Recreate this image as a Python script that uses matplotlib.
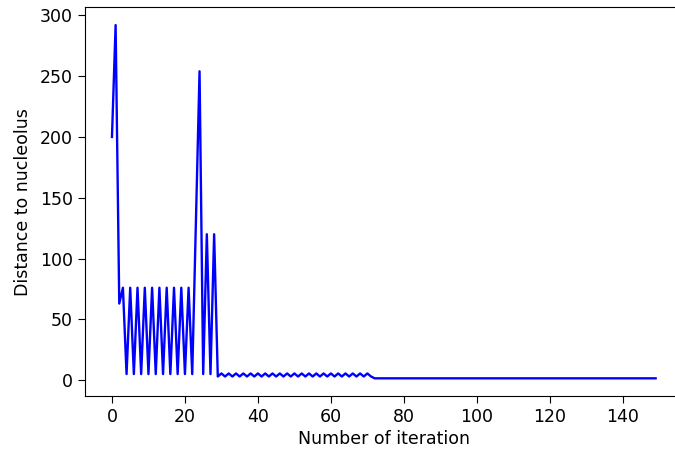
import numpy as np
import matplotlib
matplotlib.use('Agg')
import matplotlib.pyplot as plt

# distance values, one per iteration
inicio = [200, 292, 63]
oscilacion_1 = [76, 5] * 10            # iteraciones 3..22
saltos = [130, 254, 5, 120, 5, 120]    # iteraciones 23..28
oscilacion_2 = [3, 5.5] * 21 + [3]     # iteraciones 29..71
final = [1.5] * 78                     # iteraciones 72..149

distancia = np.array(inicio + oscilacion_1 + saltos + oscilacion_2 + final)
iteracion = np.arange(len(distancia))

fig = plt.figure(figsize=(6.75, 4.55), dpi=100)
ax = fig.add_axes([0.1256, 0.1297, 0.886, 0.854])
ax.plot(iteracion, distancia, 'b-', linewidth=1.7)
ax.set_xlabel('Number of iteration', fontsize=12.5, labelpad=3)
ax.set_ylabel('Distance to nucleolus', fontsize=12.5, labelpad=6)
ax.tick_params(labelsize=12.5, length=5)
ax.set_xticks(np.arange(0, 141, 20))
ax.set_yticks(np.arange(0, 301, 50))

fig.savefig('out.png', dpi=100)
